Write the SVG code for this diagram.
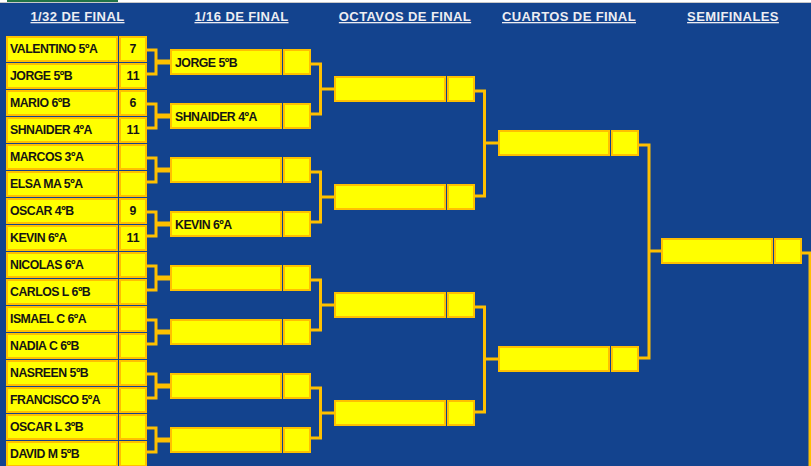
<svg xmlns="http://www.w3.org/2000/svg" width="811" height="466" viewBox="0 0 811 466">
<style>
.bg{fill:#13438E}
.c{fill:#FFFF00;stroke:#FFC000;stroke-width:2}
.t{font-family:"Liberation Sans",Arial,sans-serif;font-weight:bold;font-size:12.3px;letter-spacing:-0.5px;fill:#141414}
.s{text-anchor:middle;letter-spacing:0}
.h{font-family:"Liberation Sans",Arial,sans-serif;font-weight:bold;font-size:13px;letter-spacing:0.4px;fill:#EDEDF2;text-anchor:middle;text-decoration:underline}
.ln{fill:none;stroke:#FFC000;stroke-width:3}
.mid{fill:none;stroke:#FFC000;stroke-width:5}
.mid3{fill:none;stroke:#FFC000;stroke-width:3}
</style>
<rect class="bg" x="0" y="0" width="811" height="466"/>
<rect x="0" y="0" width="811" height="2" fill="#FFFFFF"/>
<rect x="7" y="0" width="111" height="2" fill="#217346"/>
<line x1="0" y1="2.5" x2="811" y2="2.5" stroke="#C8C8C8" stroke-width="1"/>
<g id="headers">
<text class="h" x="77.5" y="21">1/32 DE FINAL</text>
<text class="h" x="241.5" y="21">1/16 DE FINAL</text>
<text class="h" x="405" y="21">OCTAVOS DE FINAL</text>
<text class="h" x="569" y="21">CUARTOS DE FINAL</text>
<text class="h" x="733" y="21">SEMIFINALES</text>
</g>
<g id="connectors">
<path class="ln" d="M147 50H156V74H147M147 104H156V128H147M147 158H156V182H147M147 212H156V236H147M147 266H156V290H147M147 320H156V344H147M147 374H156V398H147M147 428H156V452H147"/>
<path class="mid" d="M156 62H170M156 116H170M156 170H170M156 224H170M156 278H170M156 332H170M156 386H170M156 440H170"/>
<path class="ln" d="M311 64H320.5V114H311M311 172H320.5V222H311M311 280H320.5V330H311M311 388H320.5V438H311"/>
<path class="mid3" d="M320.5 89H334M320.5 197H334M320.5 305H334M320.5 413H334"/>
<path class="ln" d="M475 91H484.5V196H475M475 307H484.5V412H475"/>
<path class="mid3" d="M484.5 143H498M484.5 359H498"/>
<path class="ln" d="M639 145H649V358H639"/>
<path class="mid3" d="M649 251H661"/>
<path class="ln" d="M802 253H810V466"/>
</g>
<g id="r32-1"><rect class="c" x="7" y="37" width="110" height="24"/><rect class="c" x="120" y="37" width="26" height="24"/><text class="t" x="10" y="53">VALENTINO 5ºA</text><text class="t s" x="133" y="53">7</text></g>
<g id="r32-2"><rect class="c" x="7" y="64" width="110" height="24"/><rect class="c" x="120" y="64" width="26" height="24"/><text class="t" x="10" y="80">JORGE 5ºB</text><text class="t s" x="133" y="80">11</text></g>
<g id="r32-3"><rect class="c" x="7" y="91" width="110" height="24"/><rect class="c" x="120" y="91" width="26" height="24"/><text class="t" x="10" y="107">MARIO 6ºB</text><text class="t s" x="133" y="107">6</text></g>
<g id="r32-4"><rect class="c" x="7" y="118" width="110" height="24"/><rect class="c" x="120" y="118" width="26" height="24"/><text class="t" x="10" y="134">SHNAIDER 4ºA</text><text class="t s" x="133" y="134">11</text></g>
<g id="r32-5"><rect class="c" x="7" y="145" width="110" height="24"/><rect class="c" x="120" y="145" width="26" height="24"/><text class="t" x="10" y="161">MARCOS 3ºA</text></g>
<g id="r32-6"><rect class="c" x="7" y="172" width="110" height="24"/><rect class="c" x="120" y="172" width="26" height="24"/><text class="t" x="10" y="188">ELSA MA 5ºA</text></g>
<g id="r32-7"><rect class="c" x="7" y="199" width="110" height="24"/><rect class="c" x="120" y="199" width="26" height="24"/><text class="t" x="10" y="215">OSCAR 4ºB</text><text class="t s" x="133" y="215">9</text></g>
<g id="r32-8"><rect class="c" x="7" y="226" width="110" height="24"/><rect class="c" x="120" y="226" width="26" height="24"/><text class="t" x="10" y="242">KEVIN 6ºA</text><text class="t s" x="133" y="242">11</text></g>
<g id="r32-9"><rect class="c" x="7" y="253" width="110" height="24"/><rect class="c" x="120" y="253" width="26" height="24"/><text class="t" x="10" y="269">NICOLAS 6ºA</text></g>
<g id="r32-10"><rect class="c" x="7" y="280" width="110" height="24"/><rect class="c" x="120" y="280" width="26" height="24"/><text class="t" x="10" y="296">CARLOS L 6ºB</text></g>
<g id="r32-11"><rect class="c" x="7" y="307" width="110" height="24"/><rect class="c" x="120" y="307" width="26" height="24"/><text class="t" x="10" y="323">ISMAEL C 6ºA</text></g>
<g id="r32-12"><rect class="c" x="7" y="334" width="110" height="24"/><rect class="c" x="120" y="334" width="26" height="24"/><text class="t" x="10" y="350">NADIA C 6ºB</text></g>
<g id="r32-13"><rect class="c" x="7" y="361" width="110" height="24"/><rect class="c" x="120" y="361" width="26" height="24"/><text class="t" x="10" y="377">NASREEN 5ºB</text></g>
<g id="r32-14"><rect class="c" x="7" y="388" width="110" height="24"/><rect class="c" x="120" y="388" width="26" height="24"/><text class="t" x="10" y="404">FRANCISCO 5ºA</text></g>
<g id="r32-15"><rect class="c" x="7" y="415" width="110" height="24"/><rect class="c" x="120" y="415" width="26" height="24"/><text class="t" x="10" y="431">OSCAR L 3ºB</text></g>
<g id="r32-16"><rect class="c" x="7" y="442" width="110" height="24"/><rect class="c" x="120" y="442" width="26" height="24"/><text class="t" x="10" y="458">DAVID M 5ºB</text></g>
<g id="r16-1"><rect class="c" x="171" y="50" width="110" height="24"/><rect class="c" x="284" y="50" width="26" height="24"/><text class="t" x="175" y="66.5">JORGE 5ºB</text></g>
<g id="r16-2"><rect class="c" x="171" y="104" width="110" height="24"/><rect class="c" x="284" y="104" width="26" height="24"/><text class="t" x="175" y="120.5">SHNAIDER 4ºA</text></g>
<g id="r16-3"><rect class="c" x="171" y="158" width="110" height="24"/><rect class="c" x="284" y="158" width="26" height="24"/></g>
<g id="r16-4"><rect class="c" x="171" y="212" width="110" height="24"/><rect class="c" x="284" y="212" width="26" height="24"/><text class="t" x="175" y="228.5">KEVIN 6ºA</text></g>
<g id="r16-5"><rect class="c" x="171" y="266" width="110" height="24"/><rect class="c" x="284" y="266" width="26" height="24"/></g>
<g id="r16-6"><rect class="c" x="171" y="320" width="110" height="24"/><rect class="c" x="284" y="320" width="26" height="24"/></g>
<g id="r16-7"><rect class="c" x="171" y="374" width="110" height="24"/><rect class="c" x="284" y="374" width="26" height="24"/></g>
<g id="r16-8"><rect class="c" x="171" y="428" width="110" height="24"/><rect class="c" x="284" y="428" width="26" height="24"/></g>
<g id="oct-1"><rect class="c" x="335" y="77" width="110" height="24"/><rect class="c" x="448" y="77" width="26" height="24"/></g>
<g id="oct-2"><rect class="c" x="335" y="185" width="110" height="24"/><rect class="c" x="448" y="185" width="26" height="24"/></g>
<g id="oct-3"><rect class="c" x="335" y="293" width="110" height="24"/><rect class="c" x="448" y="293" width="26" height="24"/></g>
<g id="oct-4"><rect class="c" x="335" y="401" width="110" height="24"/><rect class="c" x="448" y="401" width="26" height="24"/></g>
<g id="qf-1"><rect class="c" x="499" y="131" width="110" height="24"/><rect class="c" x="612" y="131" width="26" height="24"/></g>
<g id="qf-2"><rect class="c" x="499" y="347" width="110" height="24"/><rect class="c" x="612" y="347" width="26" height="24"/></g>
<g id="sf-1"><rect class="c" x="662" y="239" width="110" height="24"/><rect class="c" x="775" y="239" width="26" height="24"/></g>
</svg>
